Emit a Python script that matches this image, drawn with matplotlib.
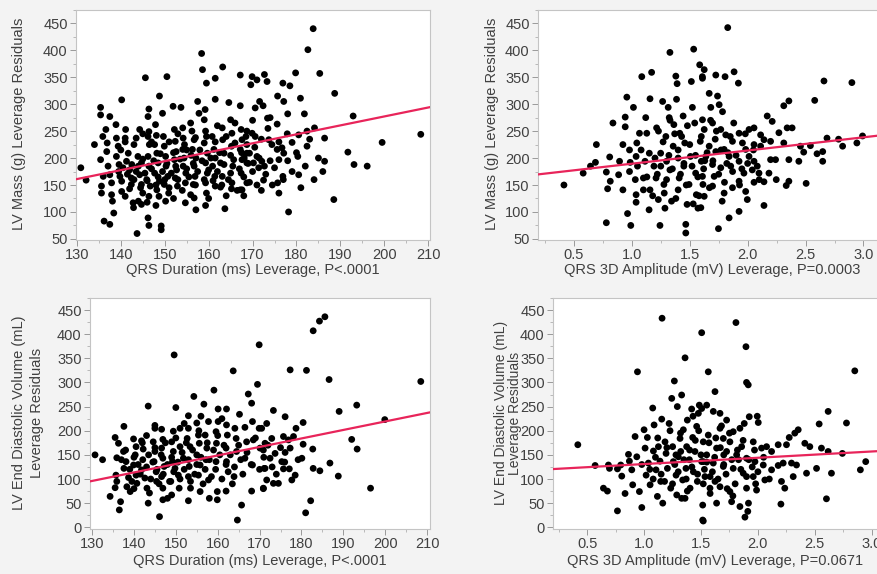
import matplotlib
matplotlib.use("Agg")
import matplotlib.pyplot as plt
from matplotlib.ticker import MultipleLocator
import numpy as np

plt.rcParams['font.family'] = ['Liberation Sans', 'DejaVu Sans']

# ---------------- Data ----------------
# Panel A: QRS duration (ms) vs LV mass residuals (g)
dur_mass_x = [130.9,132.1,134,135.4,135.4,135.9,135.4,136,135.6,135.6,136.2,137.5,137.5,136.6,136.9,136.8,137.1,137.5,137.9,137.9,138.1,138.4,
 138.9,139,139.4,139,139.6,140.2,139.8,140.2,140.2,141,141.1,141,141.7,141.3,142,142.4,142.4,142.8,142.9,143.7,143.5,144.3,143.9,144.7,144.3,
 144.7,145,144.7,145.6,146.4,146.2,146.4,146.2,146.5,146.2,146.4,145.9,146.7,146.4,146.2,146.4,147.9,148.1,147.7,148.2,148.5,147.7,148.8,148.2,
 148.7,148.8,149.2,149.2,149.5,149.7,149.9,150.2,150.5,150.3,150.7,149.9,150.2,150.9,151.9,152.2,152.4,152.6,152.2,152.7,152.4,152.9,153.7,154.1,
 154.2,154.1,154.4,154.2,154.8,154.7,154.7,155.9,156.2,156.7,156.3,157.1,156.7,156.9,156.5,155.9,156.7,157.1,157.5,157.8,158.4,158.6,159.5,159.2,
 159,159.3,159,159.7,159.3,159.7,159.3,159.5,159.3,160.8,161.2,161.5,160.9,161.4,161.5,161.5,161.5,163.2,163.1,163.2,163.5,162.7,163.1,162.7,163.7,
 164.6,165,165.3,165.2,165.7,165,165.3,165.2,167.2,167.2,167.4,167.6,167.2,167.6,167.4,167.2,168.7,168.7,
 169.9,171,172.7,173.3,169.6,170.6,171.6,172.4,173.4,175.7,176.9,178.5,177.1,179.8,180.9,182.6,183.8,185.3,188.7,181.8,175.6,168.7,169.9,170.6,
 177.9,180.5,182.4,184.1,186.4,192.9,208.3,199.5,191.7,193.1,196.1,186.4,182.4,180.3,179,176.7,175.6,174.4,173.7,176,177.1,168.7,169.3,168.1,171,
 172.1,172.7,171.4,170.2,168.7,176.9,180.5,175.7,172.5,169.3,167.6,188.5,178.2,
 139.5,140.5,141.5,142.5,143,143.5,144,144.5,145,145.5,146,147,147.5,148,148.5,149,149.5,150,150.5,151,151.5,152,152.5,153,153.5,154,154.5,155,
 155.5,156,156.5,157,157.5,158,158.5,159,159.5,160,160.5,161,161.5,162,162.5,163,163.5,164,164.5,165,165.5,166,166.5,167,167.5,168,168.5,169,170,
 170.5,171,171.5,172,173,173.5,174,174.5,175,176,177,178,179,180,181,182,183,184,185,186,140,141,142,143,144,145,146,147,148,151,152,153,155,157,
 160,162,164,166,168,170,172,174,176,178]
dur_mass_y = [182,159,225,294,280,240,197,166,148,135,83,77,277,253,228,212,185,169,154,132,120,98,
 262,237,222,203,188,308,166,157,138,129,253,237,209,194,178,163,151,117,108,60,237,253,203,191,169,
 151,135,114,349,291,277,249,240,225,203,185,160,148,129,89,75,262,242,225,209,191,172,157,141,
 129,315,74,67,283,240,222,203,351,185,166,151,120,135,296,253,231,212,197,178,163,148,294,256,
 237,216,200,185,172,154,117,265,250,234,216,200,185,166,151,132,126,104,305,283,394,364,339,290,
 271,250,228,209,191,172,154,135,112,240,216,200,185,166,148,348,309,369,256,234,209,191,166,146,106,
 303,271,246,222,197,172,154,143,354,297,253,234,216,197,172,141,154,209,
 351,345,355,342,336,293,305,297,274,315,339,334,305,358,311,401,440,357,320,282,263,250,246,240,
 245,243,250,256,237,278,244,229,211,188,185,194,222,203,229,219,216,225,234,197,209,225,209,200,203,
 194,185,182,191,191,166,169,154,159,155,141,123,100,
 175,182,170,188,160,175,185,145,198,172,158,180,195,150,165,208,175,160,190,145,172,210,185,160,198,140,225,180,
 165,205,190,150,175,215,195,160,240,178,200,158,230,175,210,150,188,240,160,205,185,228,140,180,210,165,240,190,175,
 220,150,200,235,170,255,195,150,182,230,160,195,175,210,145,185,235,160,200,175,215,230,143,225,120,245,118,230,112,230,125,245,215,238,
 125,260,130,265,130,270,140,275,135,282]

# Panel B: QRS 3D amplitude (mV) vs LV mass residuals (g)
amp_mass_x = [0.414,0.58,0.643,0.694,0.686,0.78,0.78,0.809,0.814,0.791,0.837,0.894,0.886,0.923,0.943,0.943,0.957,1.014,0.963,0.986,0.98,0.923,
 0.991,1.037,1.043,1.049,1.066,1.037,1.037,1.086,1.1,1.1,1.114,1.129,1.151,1.157,1.171,1.149,1.157,1.191,1.214,1.209,1.229,1.243,1.249,1.266,
 1.277,1.286,1.294,1.3,1.314,1.323,1.329,1.329,1.343,1.357,1.363,1.38,1.386,1.391,1.4,1.409,1.4,1.414,1.443,1.449,1.457,1.466,1.466,1.477,1.494,
 1.506,1.523,1.534,1.514,1.543,1.551,1.557,1.571,1.586,1.591,1.6,1.609,1.614,
 1.828,1.625,1.61,1.725,1.805,1.883,1.92,1.668,1.74,1.682,1.754,1.783,1.61,1.697,1.768,1.625,1.811,1.869,1.926,2.012,2.055,2.112,2.169,2.212,
 2.312,2.356,2.341,2.384,2.27,2.312,2.141,2.198,2.055,2.112,1.955,1.983,1.668,1.725,1.797,1.84,1.639,1.697,1.768,1.854,1.926,2.012,2.055,2.083,
 2.198,2.241,2.356,2.442,2.456,2.484,2.542,2.599,2.648,2.648,2.685,2.785,2.82,2.943,2.992,2.579,2.659,2.9,2.505,2.356,2.333,2.247,2.141,2.055,
 1.983,1.997,2.141,1.926,1.84,1.748,1.869,1.797,1.697,1.625,1.596,1.926,1.711,1.61,2.04,1.968,2.098,2.184,
 1.2,1.22,1.25,1.27,1.3,1.32,1.35,1.37,1.4,1.42,1.45,1.47,1.5,1.52,1.55,1.57,1.6,1.62,1.65,1.67,1.7,1.72,1.75,1.77,1.8,1.82,1.85,1.87,1.9,1.93,
 1.95,1.98,2.0,2.05,2.1,1.28,1.38,1.48,1.58,1.68,1.78,1.88,1.33,1.43,1.53,1.63,1.73,1.83,1.23,1.13,1.08,1.18,0.98,1.03,1.12]
amp_mass_y = [150,172,185,225,192,80,174,202,157,143,265,194,169,225,276,258,313,294,97,192,175,141,
 75,203,228,185,246,132,118,351,163,141,194,246,209,310,359,104,141,185,256,163,123,75,209,305,
 151,107,240,194,294,275,396,178,120,222,262,352,309,338,200,163,141,246,278,185,228,77,61,114,151,
 203,294,402,342,265,172,132,107,373,231,194,351,151,
 442,364,348,354,351,360,339,320,315,294,299,286,271,265,253,253,243,231,246,253,256,243,278,268,
 297,306,256,256,247,228,234,231,225,222,228,216,222,212,216,203,203,188,182,185,194,203,194,185,
 197,197,197,194,222,211,223,208,212,194,237,235,222,228,241,307,343,340,153,157,149,160,156,155,
 138,123,112,101,89,69,145,135,148,129,108,157,166,166,178,172,172,172,
 200,170,185,230,160,205,180,245,215,170,190,150,225,185,205,165,240,180,210,145,195,235,170,215,155,190,240,175,205,150,
 180,245,190,215,160,135,125,260,130,270,120,265,270,240,115,195,250,210,250,165,215,130,215,160,275]

# Panel C: QRS duration (ms) vs LV EDV residuals (mL)
dur_edv_x = [130.7,132.5,134.3,136.5,136.8,135.5,135.9,135.7,135.9,135.5,137.6,136.3,137.5,138.1,137.6,138.7,138.3,139.1,139.9,140.5,140.3,139.9,
 140.5,140.7,141.8,142.2,142.1,141.8,142.6,143.4,143.1,143.7,143.4,145,144.6,145,144.8,145.3,145.4,146.1,146.6,146.9,146.6,146.9,147.2,146.6,
 146.9,146.9,148.8,149,149.4,149.6,149,149.4,149.2,149.8,150,150.6,150.8,151,151,151.8,153,153,152.7,153.4,153.2,153,153.5,154.3,155,155.4,
 155.6,155,155.8,155.4,155.8,156.7,157,157.4,157.2,157.8,157.8,159.1,159.6,159.7,159.6,159.9,159.9,160.1,160.1,162.1,162.1,162.3,162,162.1,
 162.5,163.7,164.1,164.4,164.5,163.9,164.7,165.7,165.2,166.5,166.9,166.5,167.3,168.1,168.3,168.5,168.3,168.1,169.5,169.9,169.9,170.1,170.9,
 171.3,171.7,
 185.6,184.3,182.8,177.3,181.2,186.6,208.5,193.2,189,173.3,176.1,180.4,178.7,199.9,192,193.3,170.5,175.7,172.9,176.9,178.1,180.4,182.7,
 177.3,171.3,170.9,173.7,176.1,172.5,175.3,180.1,179.2,186.8,182.8,184.4,188.8,175.7,177.1,171.1,171.7,173.3,174.5,177.7,178.5,170.9,196.5,
 182.2,181,
 137,138,139,139.5,140,141,141.5,142,143,143.5,144,144.5,145,145.5,146,146.5,147,147.5,148,148.5,149,149.5,150,150.5,151,151.5,152,152.5,153,
 153.5,154,154.5,155,155.5,156,156.5,157,157.5,158,158.5,159,159.5,160,160.5,161,161.5,162,163,163.5,164,165,165.5,166,167,168,169,170,171,172,
 173,174,175,176,143,145,152,156,161,148,153,158,140,162]
dur_edv_y = [150,140,64,36,53,82,95,108,144,186,209,174,157,136,122,103,84,74,183,167,150,129,
 108,91,179,162,140,119,102,251,81,71,50,211,177,157,136,115,95,22,203,182,164,143,126,105,
 81,57,95,67,199,357,177,157,136,122,248,108,81,205,167,143,205,231,184,167,126,105,81,271,216,191,
 174,150,129,108,74,255,191,164,140,98,219,284,198,174,136,74,57,245,219,245,212,191,164,136,
 115,324,205,184,157,105,15,46,234,207,177,143,276,257,219,181,129,75,296,378,205,164,81,
 122,215,
 436,427,407,326,325,306,302,253,240,242,229,217,205,223,182,162,205,188,184,181,188,172,162,
 164,174,160,153,155,143,136,143,140,133,122,117,106,121,121,122,98,91,91,98,108,80,81,
 55,30,
 140,160,120,95,145,130,110,175,125,150,100,135,165,120,90,150,110,175,130,95,145,115,185,135,100,155,120,175,140,
 95,160,110,130,200,145,90,120,175,140,105,160,120,190,150,100,170,130,150,90,125,170,140,110,155,130,185,120,145,170,
 125,110,165,135,190,205,215,230,225,60,55,60,80,75]

# Panel D: QRS 3D amplitude (mV) vs LV EDV residuals (mL)
amp_edv_x = [0.418,0.57,0.643,0.678,0.687,0.696,0.766,0.766,0.795,0.804,0.833,0.863,0.871,0.892,0.9,0.921,0.936,0.942,0.959,0.98,1.0,1.009,
 1.018,1.029,1.038,1.053,1.076,1.082,1.088,1.105,1.117,1.126,1.14,1.146,1.158,1.155,1.164,1.184,1.193,1.205,1.228,1.234,1.243,1.251,1.257,
 1.266,1.281,1.287,1.292,1.301,1.316,1.322,1.33,1.339,1.345,1.36,1.36,1.368,1.374,1.38,1.398,1.404,1.418,1.427,1.433,1.447,1.462,1.468,1.477,
 1.485,1.506,1.506,1.515,1.515,1.52,
 1.807,1.895,1.564,1.9,1.915,1.623,2.851,1.55,1.506,1.608,1.667,1.725,1.924,1.994,2.003,2.617,2.538,2.778,2.354,2.324,2.275,1.842,1.783,1.667,
 1.564,1.696,1.754,1.857,1.959,2.032,2.076,2.12,2.178,2.251,2.412,2.456,2.558,2.617,2.742,2.947,2.9,2.646,2.515,2.427,2.339,2.295,2.222,2.178,
 2.12,2.047,1.974,1.9,1.813,1.725,1.637,1.55,1.52,1.608,1.696,1.783,1.871,1.959,2.061,2.207,2.31,2.236,2.602,2.202,1.917,1.911,1.886,1.842,
 1.769,1.637,1.52,1.579,1.667,1.754,1.9,1.988,1.535,1.623,
 1.05,1.1,1.15,1.2,1.25,1.27,1.3,1.32,1.35,1.37,1.4,1.42,1.45,1.47,1.5,1.52,1.55,1.57,1.6,1.62,1.65,1.67,1.7,1.72,1.75,1.77,1.8,1.82,1.85,1.87,
 1.9,1.92,1.95,1.97,2.0,2.05,2.1,1.12,1.22,1.38,1.48,1.58,1.68,1.78,1.88,1.33,1.43,1.53,1.63,1.73,1.83,1.18,1.08,0.98,1.28,1.58,1.7,1.98]
amp_edv_y = [171,128,81,75,129,122,34,121,129,106,70,151,137,119,88,188,146,322,74,41,202,164,
 108,186,133,88,247,158,212,119,64,167,137,95,433,224,50,177,153,122,200,81,267,167,136,
 303,108,67,250,146,184,157,274,98,202,351,60,122,167,222,140,81,245,186,115,157,209,95,236,
 253,403,136,46,15,177,
 424,374,322,300,295,281,324,253,246,240,236,222,229,230,217,240,214,216,202,195,186,205,198,205,
 191,184,177,167,177,164,167,157,171,171,174,167,164,157,153,136,119,112,122,112,129,133,133,128,
 119,129,136,143,150,157,164,150,136,133,126,122,112,105,98,95,105,81,59,48,50,33,21,43,
 53,50,13,81,84,74,81,77,105,95,
 120,145,110,165,90,130,115,195,140,100,160,125,180,110,150,90,135,175,115,145,100,165,130,110,195,140,90,160,120,180,
 105,140,125,160,115,145,100,185,215,75,200,70,210,65,215,60,230,120,185,80,140,95,100,130,150,105,150,90]

# Fitted leverage lines: (reference x, value there, slope)
fit_dur_mass = (130, 161.0, 1.66)
fit_amp_mass = (0.0, 165.0, 24.5)
fit_dur_edv = (130, 96.0, 1.76)
fit_amp_edv = (0.0, 118.0, 13.0)

dur_ticks = [130, 140, 150, 160, 170, 180, 190, 200, 210]
amp_ticks = [0.5, 1.0, 1.5, 2.0, 2.5, 3.0]
amp_ticklabels = ['0.5', '1.0', '1.5', '2.0', '2.5', '3.0']
mass_ticks = [50, 100, 150, 200, 250, 300, 350, 400, 450]
edv_ticks = [0, 50, 100, 150, 200, 250, 300, 350, 400, 450]

xlabels = ['QRS Duration (ms) Leverage, P<.0001', 'QRS 3D Amplitude (mV) Leverage, P=0.0003',
           'QRS Duration (ms) Leverage, P<.0001', 'QRS 3D Amplitude (mV) Leverage, P=0.0671']
ylabel_mass = 'LV Mass (g) Leverage Residuals'
ylabel_edv = 'LV End Diastolic Volume (mL)\nLeverage Residuals'

# ---------------- Figure ----------------
W, H = 878, 574
BG = '#f3f3f3'
TXT = '#404040'
fig = plt.figure(figsize=(W / 100, H / 100), dpi=100, facecolor=BG)

def px_axes(l, t, r, b):
    return fig.add_axes([l / W, 1 - b / H, (r - l) / W, (b - t) / H])

def style(ax, xt, xtl, yt, xlim, ylim, xminor, yminor):
    ax.set_facecolor('white')
    ax.set_xlim(*xlim)
    ax.set_ylim(*ylim)
    ax.set_xticks(xt)
    ax.set_xticklabels(xtl)
    ax.set_yticks(yt)
    ax.xaxis.set_minor_locator(MultipleLocator(xminor))
    ax.yaxis.set_minor_locator(MultipleLocator(yminor))
    for s in ax.spines.values():
        s.set_color('#c4c4c4')
        s.set_linewidth(0.8)
    ax.tick_params(which='major', length=4, width=0.7, color='#9a9a9a',
                   labelsize=10.5, labelcolor=TXT, pad=2)
    ax.tick_params(which='minor', length=2, width=0.6, color='#b0b0b0')

def draw(ax, x, y, fit, xlim):
    x0, b0, m = fit
    xs = np.array(xlim)
    ax.plot(xs, b0 + m * (xs - x0), color='#e8245a', lw=1.6, zorder=3)
    ax.scatter(x, y, s=24, color='black', edgecolors='none', zorder=2)

# Panel A
xlA, ylA = (129.8, 210.4), (48.9, 475.6)
axA = px_axes(76, 9.5, 430, 239.5)
style(axA, dur_ticks, [str(t) for t in dur_ticks], mass_ticks, xlA, ylA, 5, 25)
draw(axA, dur_mass_x, dur_mass_y, fit_dur_mass, xlA)

# Panel B
xlB, ylB = (0.19, 3.16), (48.9, 475.6)
axB = px_axes(538, 9.5, 882, 239.5)
style(axB, amp_ticks, amp_ticklabels, mass_ticks, xlB, ylB, 0.25, 25)
draw(axB, amp_mass_x, amp_mass_y, fit_amp_mass, xlB)

# Panel C
xlC, ylC = (129.5, 210.7), (-2.5, 475.5)
axC = px_axes(90, 297.7, 430, 528.5)
style(axC, dur_ticks, [str(t) for t in dur_ticks], edv_ticks, xlC, ylC, 5, 25)
draw(axC, dur_edv_x, dur_edv_y, fit_dur_edv, xlC)

# Panel D
xlD, ylD = (0.2, 3.09), (-2.5, 475.5)
axD = px_axes(553, 297.7, 882, 528.5)
style(axD, amp_ticks, amp_ticklabels, edv_ticks, xlD, ylD, 0.25, 25)
draw(axD, amp_edv_x, amp_edv_y, fit_amp_edv, xlD)

# Axis titles
fs = 10.5
fig.text(253 / W, 1 - 270 / H, xlabels[0], ha='center', va='center', fontsize=fs, color=TXT)
fig.text(712 / W, 1 - 270 / H, xlabels[1], ha='center', va='center', fontsize=fs, color=TXT)
fig.text(260 / W, 1 - 561 / H, xlabels[2], ha='center', va='center', fontsize=fs, color=TXT)
fig.text(715 / W, 1 - 561 / H, xlabels[3], ha='center', va='center', fontsize=fs, color=TXT)

fig.text(19 / W, 1 - 124 / H, ylabel_mass, rotation=90,
         ha='center', va='center', fontsize=fs, color=TXT)
fig.text(492 / W, 1 - 124 / H, ylabel_mass, rotation=90,
         ha='center', va='center', fontsize=fs, color=TXT)
fig.text(28 / W, 1 - 413 / H, ylabel_edv, rotation=90,
         ha='center', va='center', fontsize=fs, color=TXT, multialignment='center', linespacing=1.3)
fig.text(508 / W, 1 - 413 / H, ylabel_edv, rotation=90,
         ha='center', va='center', fontsize=10, color=TXT, multialignment='center', linespacing=1.05)

fig.savefig('out.png', dpi=100, facecolor=BG)
